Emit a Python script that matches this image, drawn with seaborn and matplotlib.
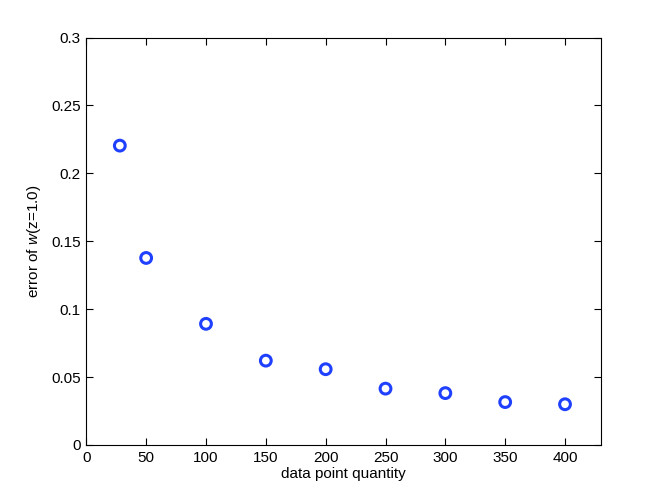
import numpy as np
import pandas as pd
import matplotlib
matplotlib.use("Agg")
import matplotlib.pyplot as plt
import seaborn as sns

# values
n_points = [28, 50, 100, 150, 200, 250, 300, 350, 400]
w_error = [0.2204, 0.1377, 0.0892, 0.0621, 0.0558, 0.0415, 0.0382, 0.0316, 0.0300]
x_ticks = [0, 50, 100, 150, 200, 250, 300, 350, 400]
y_ticks = [0, 0.05, 0.1, 0.15, 0.2, 0.25, 0.3]
y_tick_labels = ["0", "0.05", "0.1", "0.15", "0.2", "0.25", "0.3"]

df = pd.DataFrame({"quantity": n_points, "error": w_error})

sns.set_style("ticks")
plt.rcParams['font.family'] = ['Liberation Sans', 'DejaVu Sans']
plt.rcParams['mathtext.fontset'] = 'custom'
plt.rcParams['mathtext.it'] = 'Liberation Sans:italic'
plt.rcParams['mathtext.rm'] = 'Liberation Sans'
plt.rcParams['text.color'] = 'black'
plt.rcParams['axes.labelcolor'] = 'black'
plt.rcParams['xtick.color'] = 'black'
plt.rcParams['ytick.color'] = 'black'

fig = plt.figure(figsize=(6.64, 5), dpi=100)
ax = fig.add_axes([0.13, 0.11, 0.775, 0.815])

sns.scatterplot(data=df, x="quantity", y="error", ax=ax, marker="o", s=60,
                facecolors="none", edgecolor="#2040ff", linewidth=2.2, legend=False)

ax.set_xlim(0, 430)
ax.set_ylim(0, 0.3)
ax.set_xticks(x_ticks)
ax.set_yticks(y_ticks)
ax.set_yticklabels(y_tick_labels)
ax.tick_params(direction="in", length=5, width=0.8, top=True, right=True,
               labelsize=11, pad=4, colors="black")
for sp in ax.spines.values():
    sp.set_linewidth(0.8)
    sp.set_color("black")

ax.set_xlabel("data point quantity", fontsize=11, labelpad=2)
ax.set_ylabel("error of $w$(z=1.0)", fontsize=11, labelpad=6)

fig.savefig("out.png", dpi=100)
